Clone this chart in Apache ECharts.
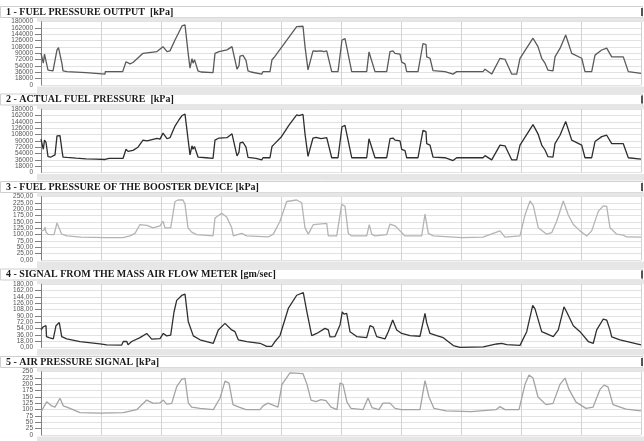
<!DOCTYPE html>
<html>
<head>
<meta charset="utf-8">
<script src="https://cdn.jsdelivr.net/npm/echarts@6/dist/echarts.min.js"></script>
<style>
html,body{margin:0;padding:0;background:#fff;}
#c{width:644px;height:441px;}
</style>
</head>
<body>
<div id="c"></div>
<script>
var titles = [
  '1 - FUEL PRESSURE OUTPUT  [kPa]',
  '2 - ACTUAL FUEL PRESSURE  [kPa]',
  '3 - FUEL PRESSURE OF THE BOOSTER DEVICE [kPa]',
  '4 - SIGNAL FROM THE MASS AIR FLOW METER [gm/sec]',
  '5 - AIR PRESSURE SIGNAL [kPa]'
];
var ticks1 = ['0','18000','36000','54000','72000','90000','108000','126000','144000','162000','180000'];
var ticks2 = ['0','18000','36000','54000','72000','90000','108000','126000','144000','162000','180000'];
var ticks3 = ['0,00','25,00','50,00','75,00','100,00','125,00','150,00','175,00','200,00','225,00','250,00'];
var ticks4 = ['0,00','18,00','36,00','54,00','72,00','90,00','108,00','126,00','144,00','162,00','180,00'];
var ticks5 = ['0','25','50','75','100','125','150','175','200','225','250'];
var yMax = [180000, 180000, 250, 180, 250];

var fuelOutput = [[0,90000],[1,92000],[2.3,62000],[3.5,88000],[5,88000],[7,42000],[12,40000],[14,45000],[16,100000],[17.5,106000],[19,104000],[21,60000],[22,40000],[26,38000],[45,35000],[64,31000],[64.3,38000],[81.7,38000],[85,66000],[87,62000],[89,60000],[92,64000],[102,90000],[110,93000],[116,95000],[122,109000],[126,95000],[129,97000],[134,128000],[141,168000],[144,171000],[146,170000],[147,94000],[149,48000],[151,75000],[152,62000],[153.5,72000],[157,40000],[160,37000],[172,35000],[174,90000],[178,95000],[186,100000],[191,109000],[193,104000],[196,45000],[198,55000],[199,82000],[202,84000],[205,70000],[207,40000],[210,37000],[220.7,31000],[222,38000],[229,38000],[231,72000],[233,78000],[234,75000],[255.7,166000],[262,167000],[264,109000],[267,43000],[272,97000],[275,96000],[280,97000],[283,95000],[285.7,97000],[290.7,38000],[297,38000],[301,128000],[304,132000],[306,128000],[310.7,38000],[325.7,38000],[328,94000],[334,38000],[345.7,38000],[349,95000],[352,97000],[354,90000],[356,92000],[359,88000],[360.7,65000],[364,60000],[365.7,38000],[377,38000],[382,118000],[385,115000],[385.7,80000],[389,76000],[392,40700],[404,38000],[412,31000],[415.7,38000],[442,38000],[444,45000],[450.7,31000],[459,76000],[464,73000],[470.7,31000],[475.7,31000],[479,76000],[492,133000],[497,109000],[500.7,76000],[502,78000],[504,62000],[507,42000],[512,40000],[514,80000],[519,104000],[524.7,142000],[530.7,90000],[540.7,76000],[544,38000],[550.7,38000],[554,85000],[560.7,99500],[565.7,105000],[570.7,80000],[582.3,80000],[587.3,38000],[600,33000]];

var actualFuel = [[0,95000],[1,92000],[2.3,66000],[3.5,92000],[5,86000],[7,45000],[10,44000],[12,44000],[14,50000],[16,104000],[17.5,108000],[19,105000],[21,62000],[22,44000],[26,43000],[35,41000],[45,39000],[55,38000],[64,37000],[66,34000],[68,40000],[75,40000],[82,40000],[85,66000],[87,60000],[89,58000],[92,63000],[97,72000],[102,92000],[106,90000],[110,93000],[116,97000],[119,95000],[122,112000],[126,96000],[129,99000],[134,132000],[138,150000],[141,162000],[144,166000],[146,165000],[147,96000],[149,50000],[151,76000],[152,66000],[153.5,74000],[157,44000],[165,42000],[172,40000],[174,92000],[178,98000],[186,99000],[191,110000],[193,105000],[196,47000],[198,58000],[199,84000],[202,86000],[205,72000],[207,43000],[215,40000],[220.7,36000],[222,42000],[229,42000],[231,74000],[233,80000],[234,76000],[240,100000],[248,135000],[255.7,164000],[258,162000],[262,165000],[264,110000],[267,46000],[272,98000],[275,100000],[280,96000],[283,98000],[285.7,99000],[290.7,42000],[297,42000],[301,130000],[304,134000],[306,130000],[310.7,42000],[325.7,42000],[328,96000],[334,42000],[345.7,42000],[349,96000],[352,98000],[354,92000],[359,90000],[360.7,66000],[364,62000],[365.7,42000],[377,42000],[382,120000],[385,116000],[385.7,82000],[389,78000],[392,44000],[404,42000],[412,34000],[415.7,42000],[442,42000],[444,48000],[450.7,36000],[459,78000],[464,76000],[470.7,36000],[475.7,36000],[479,78000],[492,136000],[497,110000],[500.7,78000],[502,80000],[504,64000],[507,45000],[512,44000],[514,82000],[519,106000],[524.7,145000],[530.7,92000],[540.7,78000],[544,42000],[550.7,42000],[554,88000],[560.7,102000],[565.7,106000],[570.7,82000],[582.3,82000],[587.3,42000],[600,38000]];

var booster = [[0,114],[2,120],[3,118],[4,130],[5,110],[7,101],[13,100],[16,146],[17,146],[20.7,102],[26,95],[40,90],[64,88],[82,88],[89,95],[94,105],[99,140],[106,137],[112,127],[119,135],[122,153],[124,127],[129.7,127],[134,231],[137,237],[142,237],[144,220],[147,127],[150.7,110],[155.7,100],[172,95],[174,166],[180.7,185],[185.7,170],[190.7,127],[192.3,95],[200.7,105],[205.7,95],[227.3,91],[232.3,102],[239,153],[245.7,231],[255.7,237],[260.7,226],[264,127],[267.3,102],[272.3,140],[285.7,145],[287.3,95],[295.7,95],[300.7,220],[304,212],[307.3,105],[310.7,95],[325.7,95],[328.3,140],[330.7,102],[334,95],[345.7,100],[349,142],[354,135],[359,115],[364,95],[380.7,95],[384,181],[387.3,105],[392.3,95],[420.7,88],[442,90],[459,115],[464,90],[479,95],[484,178],[489,233],[492.3,215],[497.3,127],[505.7,102],[510.7,108],[515.7,153],[522.3,233],[527.3,178],[532.3,140],[539,115],[545.7,95],[550.7,115],[557.3,192],[562.3,214],[565.7,212],[569,127],[575.7,102],[582.3,98],[585.7,91],[600,90]];

var massAirFlow = [[0,50],[2.3,59],[5,62],[5.5,31],[8,28],[12.3,24.5],[15,62],[18.3,71],[20.7,31],[25.7,24.5],[39,17],[59,10.4],[65.7,7.5],[80.7,7],[82.3,17],[85.7,17.5],[87,8],[90.7,17],[99,28],[105.7,40],[110.7,24],[119,25],[122.3,40],[125.7,33],[129.7,35],[133,101],[135.7,134],[140.7,148],[144,152],[147.3,73],[152.3,33],[159,22],[172.3,12],[177.3,50],[184,68.6],[190.7,50],[194,45],[197.3,22],[205.7,17],[219,12],[225.7,3],[230.7,3],[234,17],[239,34],[247.3,111],[255.7,148.6],[262.3,156],[265.7,104],[270.7,34],[275.7,40],[284,54.5],[287.3,50],[289,30],[294,31],[299,64],[301.3,101.5],[303,95],[305.7,97],[309,45],[315.7,31],[325.7,28],[329,62],[332.3,58],[335.7,31],[344,24.5],[347.3,45],[351.7,78],[355.7,50],[360.7,40],[369,34],[379,32],[384,97],[385.7,70],[389,40],[395.7,34],[402.3,28],[412.3,5.6],[419,0.5],[442.3,2],[455.7,10],[460.7,12],[465.7,8],[479,6],[485.7,45],[491.7,120],[494,110],[500.7,45],[512.3,31],[517.3,50],[523,115.7],[525.7,101],[532.3,62],[539,45],[547.3,17],[552.3,12],[555.7,50],[562.3,81],[565.7,78],[569,50],[570.7,30],[579,22],[600,7.5]];

var airPressure = [[0,92],[5.7,131],[10.7,115],[14,110],[19,145],[22.3,115],[29,105],[39,88],[59,86],[82.3,88],[95.7,100],[105.7,138],[112.3,125],[119,127],[122.3,138],[125.7,122],[130.7,125],[135.7,191],[140.7,220],[144,224],[147.3,127],[150.7,110],[159,105],[172.3,100],[179,145],[184,213],[188,205],[192,120],[198,110],[205,100],[219,100],[222,115],[227,126],[232,118],[237,110],[241,200],[249,245],[262,242],[266,200],[270,138],[275,132],[280,140],[285,136],[290,110],[296,100],[299,205],[302,200],[306,130],[310,105],[322,100],[327,146],[331,108],[338,100],[342,126],[349,126],[354,105],[360,100],[379,100],[384,215],[388,150],[393,105],[405,95],[430,92],[455,100],[459,112],[464,100],[478,100],[484,200],[488,237],[492,225],[497,150],[505,120],[512,125],[519,200],[524,225],[528,180],[535,130],[545,105],[552,110],[559,180],[563,197],[567,190],[572,120],[585,102],[600,95]];

var seriesData = [fuelOutput, actualFuel, booster, massAirFlow, airPressure];
var tickSets = [ticks1, ticks2, ticks3, ticks4, ticks5];
var lineColors = ['#5a5a5a', '#2e2e2e', '#b4b4b4', '#303030', '#a4a4a4'];

var step = 87.5;
var grids = [], xAxes = [], yAxes = [], series = [], titleArr = [], graphics = [];
function makeLabel(labels, mx, showEnds) {
  return {
    margin: 8, fontSize: 6.5, color: '#555', fontFamily: 'Liberation Sans',
    showMinLabel: showEnds, showMaxLabel: showEnds,
    formatter: function (v) { return labels[Math.round(v / (mx / 10))]; }
  };
}
for (var i = 0; i < 5; i++) {
  var o = step * i;
  var mx = yMax[i];
  grids.push({left: 41, right: 3, top: 21.7 + o, height: 63.3, containLabel: false});
  xAxes.push({
    type: 'value', gridIndex: i, min: 0, max: 600, interval: 60,
    axisLabel: {show: false}, axisTick: {show: false}, axisLine: {show: false},
    splitLine: {show: true, lineStyle: {color: '#d2d2d2', width: 1}}
  });
  // main axis: inner tick labels, ticks, gridlines
  yAxes.push({
    type: 'value', gridIndex: i, min: 0, max: mx, interval: mx / 10, position: 'left',
    axisLine: {show: true, lineStyle: {color: '#808080', width: 1}},
    axisTick: {show: true, length: 6, lineStyle: {color: '#808080'}},
    axisLabel: makeLabel(tickSets[i], mx, false),
    splitLine: {show: true, lineStyle: {color: '#e2e2e2', width: 1}}
  });
  // companion axis: only the end labels (0 and max)
  var endLabel = makeLabel(tickSets[i], mx, true);
  endLabel.formatter = (function (labels, m) {
    return function (v) { return v >= m ? labels[10] : labels[0]; };
  })(tickSets[i], mx);
  yAxes.push({
    type: 'value', gridIndex: i, min: 0, max: mx, interval: mx, position: 'left', offset: 0,
    axisLine: {show: false}, axisTick: {show: false}, splitLine: {show: false},
    axisLabel: endLabel
  });
  series.push({
    type: 'line', xAxisIndex: i, yAxisIndex: 2 * i, data: seriesData[i],
    showSymbol: false, symbol: 'none', animation: false,
    lineStyle: {color: lineColors[i], width: 1.3}
  });
  titleArr.push({
    text: titles[i], left: 6, top: o + 7.3, padding: 0,
    textStyle: {fontFamily: 'Liberation Serif', fontWeight: 'bold', fontSize: 10, color: '#1a1a1a'}
  });
  graphics.push({type: 'rect', z: -10, shape: {x: 0.5, y: o + 6.5, width: 642, height: 11}, style: {fill: '#fff', stroke: '#cfcfcf', lineWidth: 1}});
  graphics.push({type: 'rect', z: -9, shape: {x: 641, y: o + 8, width: 2, height: 8}, style: {fill: '#555'}});
  graphics.push({type: 'rect', z: -10, shape: {x: 37, y: o + 17.5, width: 607, height: 4.2}, style: {fill: '#e6e6e6'}});
  graphics.push({type: 'rect', z: -10, shape: {x: 37, y: o + 86.5, width: 607, height: 6.5}, style: {fill: '#e6e6e6'}});
}

var chart = echarts.init(document.getElementById('c'), null, {renderer: 'canvas'});
chart.setOption({
  backgroundColor: '#fff',
  animation: false,
  title: titleArr,
  grid: grids,
  xAxis: xAxes,
  yAxis: yAxes,
  series: series,
  graphic: graphics
});
</script>
</body>
</html>
